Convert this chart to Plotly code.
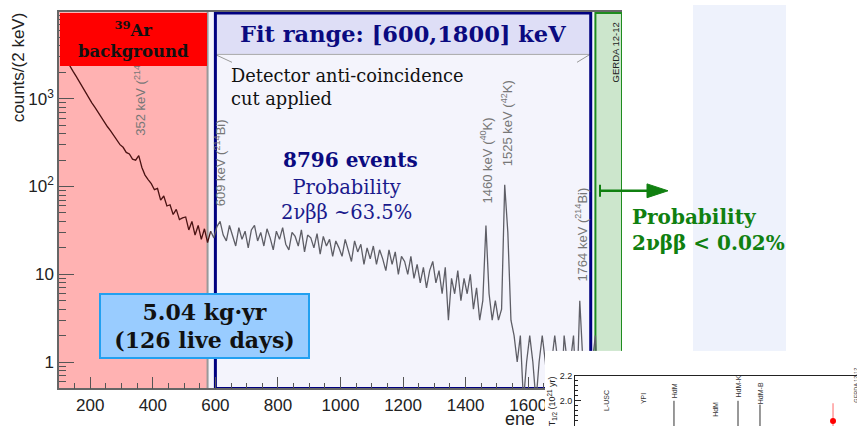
import numpy as np
import plotly.graph_objects as go

W, H = 857, 426


def px(x):
    return x / W


def py(y):
    return 1 - y / H


# ---------------- data ----------------
energy_start = 100      # keV, left edge of first bin
bin_width = 10          # keV
counts = [
    3600, 3100, 2700, 2350, 2050, 1800, 1560, 1380, 1200, 1020,   # 100-190
    900, 800, 700, 620, 540, 480, 430, 380, 340, 300,             # 200-290
    280, 245, 235, 205, 200, 225, 165, 135, 120, 108,             # 300-390
    92, 95, 70, 78, 60, 62, 48, 55, 42, 44,                       # 400-490
    45, 32, 40, 28, 36, 25, 33, 23, 31, 26,                       # 500-590
    35, 40, 28, 24, 36, 27, 21, 34, 25, 31,                       # 600-690
    20, 32, 36, 24, 30, 21, 33, 26, 19, 31,                       # 700-790
    25, 34, 22, 19, 30, 27, 21, 32, 18, 28,                       # 800-890
    26, 20, 29, 17, 27, 21, 25, 16, 24, 20,                       # 900-990
    16, 25, 19, 14, 24, 18, 22, 13, 20, 15,                       # 1000-1090
    21, 13, 19, 15, 11, 19, 13, 18, 10, 16,                       # 1100-1190
    14, 10, 16, 9, 13, 8, 12, 7, 11, 14,                          # 1200-1290
    8, 11, 6, 12, 3, 9, 6, 11, 5, 9,                              # 1300-1390
    6, 10, 4, 7, 3, 5, 36, 6, 3, 5,                               # 1400-1490
    3, 4, 105, 30, 3, 2, 1, 2, 0, 1,                              # 1500-1590
    2, 1, 0, 1, 2, 1, 0, 1, 2, 1,                                 # 1600-1690
    0, 2, 1, 1, 2, 0, 5, 1, 1, 0,                                 # 1700-1790
    1, 2, 0, 1, 0, 1, 1, 0, 1, 0,                                 # 1800-1890
]
x_range = [100, 1900]
fit_range = [600, 1800]
ar39_end = 575
gerda_band = [1815, 1900]

peak_energies = [352, 609, 1460, 1525, 1764]
peak_labels = ["352 keV (<sup>214</sup>Pb)", "609 keV (<sup>214</sup>Bi)",
               "1460 keV (<sup>40</sup>K)", "1525 keV (<sup>42</sup>K)",
               "1764 keV (<sup>214</sup>Bi)"]
peak_label_ypx = [86, 160, 157, 120, 232]

y_tickvals = [1, 10, 100, 1000]
y_ticktext = ["1", "10", "10<sup>2</sup>", "10<sup>3</sup>"]

# inset (half-life comparison)
inset_labels = ["L-USC", "YPI", "HdM", "HdM", "HdM-K", "HdM-B"]
inset_pos = [1.1, 2.41, 3.51, 5.0, 5.78, 6.56]
inset_label_y = [1.998, 2.021, 2.083, 1.928, 2.114, 2.06]
inset_upper = [None, None, 2.0, None, 2.0, 1.97]
gerda_pos = 9.15
gerda_t12 = 1.84
gerda_err_plus = 0.14
gerda_err_minus = 0.10

# ---------------- figure ----------------
counts = np.array(counts, dtype=float)
centers = energy_start + bin_width * (np.arange(len(counts)) + 0.5)
yfloor = 10 ** -0.45
yplot = np.where(counts > 0, counts, yfloor)

in_ar = centers <= ar39_end + 10
n_ar = int(in_ar.sum())
fig = go.Figure()
fig.add_trace(go.Scatter(
    x=centers[:n_ar], y=yplot[:n_ar],
    mode="lines", line=dict(color="#4a1212", width=1.3),
    hoverinfo="skip"))
fig.add_trace(go.Scatter(
    x=centers[n_ar - 1:], y=yplot[n_ar - 1:],
    mode="lines", line=dict(color="#5e5e66", width=1.3),
    hoverinfo="skip"))

# covering white inset subplot
fig.add_trace(go.Scatter(x=[0], y=[0], xaxis="x2", yaxis="y2", mode="markers",
                         marker=dict(opacity=0), hoverinfo="skip"))

# inset: upper error bars of earlier measurements
seg_x, seg_y = [], []
for p, u in zip(inset_pos, inset_upper):
    if u is not None:
        seg_x += [p, p, None]
        seg_y += [u, 1.7, None]
fig.add_trace(go.Scatter(x=seg_x, y=seg_y, xaxis="x3", yaxis="y3", mode="lines",
                         line=dict(color="#333", width=1), hoverinfo="skip"))
fig.add_trace(go.Scatter(
    x=[gerda_pos], y=[gerda_t12], xaxis="x3", yaxis="y3", mode="markers",
    marker=dict(color="#ff0000", size=6),
    error_y=dict(type="data", symmetric=False, array=[gerda_err_plus],
                 arrayminus=[gerda_err_minus], color="#ff9a9a", thickness=1.5, width=0),
    hoverinfo="skip"))

minor_y = [k * 10 ** d for d in range(-1, 4) for k in range(2, 10)]
minor_y = [v for v in minor_y if 0.5 <= v <= 9800]

tickfont = dict(family="Liberation Sans, Arial", size=17, color="#222")
fig.update_layout(
    width=W, height=H, autosize=False, margin=dict(l=0, r=0, t=0, b=0),
    paper_bgcolor="white", plot_bgcolor="white", showlegend=False,
    xaxis=dict(domain=[px(59), px(622)], range=x_range, anchor="y",
               showline=True, linecolor="#666", linewidth=1.5, mirror=True,
               ticks="inside", ticklen=12, tickcolor="#555", tick0=0, dtick=200,
               showgrid=False, zeroline=False, tickfont=tickfont,
               minor=dict(dtick=50, tick0=0, ticks="inside", ticklen=6, tickcolor="#555")),
    yaxis=dict(domain=[py(388), py(7)], type="log", range=[np.log10(0.5), 3.99],
               anchor="x", showline=True, linecolor="#666", linewidth=1.5,
               ticks="inside", ticklen=15, tickcolor="#555",
               tickmode="array", tickvals=y_tickvals, ticktext=y_ticktext,
               showgrid=False, zeroline=False, tickfont=tickfont,
               minor=dict(tickmode="array", tickvals=minor_y, ticks="inside",
                          ticklen=7, tickcolor="#555")),
    xaxis2=dict(domain=[px(545), 1], range=[0, 1], anchor="y2", visible=False),
    yaxis2=dict(domain=[0, py(350)], range=[0, 1], anchor="x2", visible=False),
    xaxis3=dict(domain=[px(575), 1], range=[0, 10], anchor="y3", side="top",
                showline=True, linecolor="#222", linewidth=1, ticks="",
                showticklabels=False, showgrid=False, zeroline=False),
    yaxis3=dict(domain=[0, py(375)], range=[1.8, 2.2], anchor="x3",
                showline=True, linecolor="#222", linewidth=1,
                ticks="inside", ticklen=6, tickcolor="#222", tick0=0, dtick=0.2,
                tickformat=".1f", showgrid=False, zeroline=False,
                tickfont=dict(family="Liberation Sans, Arial", size=9, color="#222"),
                minor=dict(dtick=0.04, tick0=0, ticks="inside", ticklen=3, tickcolor="#222")),
)

shapes = []
plot_y0, plot_y1 = py(388), py(7)
# plot area background
shapes.append(dict(type="rect", layer="below", xref="x", yref="paper",
                   x0=x_range[0], x1=x_range[1], y0=plot_y0, y1=plot_y1,
                   fillcolor="#F4F4FC", line=dict(width=0)))
# 39Ar region
shapes.append(dict(type="rect", layer="below", xref="x", yref="paper",
                   x0=x_range[0], x1=ar39_end, y0=plot_y0, y1=plot_y1,
                   fillcolor="#FFB2B2", line=dict(width=0)))
shapes.append(dict(type="line", layer="below", xref="x", yref="paper",
                   x0=ar39_end, x1=ar39_end, y0=plot_y0, y1=plot_y1,
                   line=dict(color="#999", width=2)))
# GERDA band
shapes.append(dict(type="rect", layer="below", xref="x", yref="paper",
                   x0=gerda_band[0], x1=gerda_band[1], y0=plot_y0, y1=py(8),
                   fillcolor="#CCE6CC", line=dict(color="#1E8C1E", width=2)))
# fit range header band
shapes.append(dict(type="rect", layer="below", xref="x", yref="paper",
                   x0=fit_range[0], x1=fit_range[1], y0=py(50), y1=py(8),
                   fillcolor="#DEDEF6", line=dict(width=0)))
shapes.append(dict(type="line", layer="below", xref="x", yref="paper",
                   x0=fit_range[0], x1=fit_range[1], y0=py(50), y1=py(50),
                   line=dict(color="#aaa", width=1)))
shapes.append(dict(type="line", layer="below", xref="paper", yref="paper",
                   x0=px(215), x1=px(232), y0=py(50), y1=py(58),
                   line=dict(color="#999", width=1)))
shapes.append(dict(type="line", layer="below", xref="paper", yref="paper",
                   x0=px(590), x1=px(577), y0=py(50), y1=py(58),
                   line=dict(color="#999", width=1)))
# fit range border
shapes.append(dict(type="rect", layer="below", xref="x", yref="paper",
                   x0=fit_range[0], x1=fit_range[1], y0=plot_y0, y1=py(8),
                   line=dict(color="#00007F", width=3)))
# pale blue column at right
shapes.append(dict(type="rect", layer="below", xref="paper", yref="paper",
                   x0=px(693), x1=px(786), y0=py(350), y1=1,
                   fillcolor="#EEF2FC", line=dict(width=0)))
# green arrow
green = "#108010"
shapes.append(dict(type="line", layer="above", xref="paper", yref="paper",
                   x0=px(600), x1=px(652), y0=py(188), y1=py(188),
                   line=dict(color=green, width=2.5)))
shapes.append(dict(type="line", layer="above", xref="paper", yref="paper",
                   x0=px(600), x1=px(600), y0=py(182), y1=py(194),
                   line=dict(color=green, width=2)))
shapes.append(dict(type="path", layer="above", xref="paper", yref="paper",
                   path=f"M {px(647)},{py(181)} L {px(668)},{py(188)} L {px(647)},{py(195)} Z",
                   fillcolor=green, line=dict(color=green, width=1)))
fig.update_layout(shapes=shapes)

serif = "DejaVu Serif"
sans = "Liberation Sans, Arial"
navy = "#0A0A80"
C = dict(xanchor="center", yanchor="middle", showarrow=False)
ann = []
ann.append(dict(text="counts/(2 keV)", x=px(18), y=py(63), xref="paper", yref="paper",
                textangle=-90, font=dict(family=sans, size=17, color="#222"), **C))
# energy axis title, clipped by the inset as in the slide
ann.append(dict(text="energy (keV)", x=px(503), y=py(419), xref="paper", yref="paper",
                xanchor="left", yanchor="middle", align="left", width=29, showarrow=False,
                font=dict(family=sans, size=18, color="#222")))
for e, lab, ly in zip(peak_energies, peak_labels, peak_label_ypx):
    ann.append(dict(text=lab, x=e + 6, y=py(ly), xref="x", yref="paper",
                    textangle=-90, font=dict(family=sans, size=13, color="#777"), **C))
ann.append(dict(text="<b><sup>39</sup>Ar<br>background</b>", x=px(133.5), y=py(34.5),
                xref="paper", yref="paper", width=147, height=53,
                bgcolor="#FF0000", borderpad=0, borderwidth=0,
                font=dict(family=serif, size=16.5, color="#111"), **C))
ann.append(dict(text="<b>Fit range: [600,1800] keV</b>", x=sum(fit_range) / 2, y=py(29),
                xref="x", yref="paper",
                font=dict(family=serif, size=22.5, color=navy), **C))
ann.append(dict(text="Detector anti-coincidence<br>cut applied", x=px(229), y=py(83),
                xref="paper", yref="paper", xanchor="left", yanchor="middle",
                align="left", showarrow=False,
                font=dict(family=serif, size=17.8, color="#111")))
ann.append(dict(text="<b>8796 events</b>", x=px(350), y=py(157), xref="paper", yref="paper",
                font=dict(family=serif, size=20, color=navy), **C))
ann.append(dict(text="Probability<br>2νββ ~63.5%", x=px(346), y=py(197.5),
                xref="paper", yref="paper",
                font=dict(family=serif, size=19.5, color="#1A1A8C"), **C))
ann.append(dict(text="<b>5.04 kg·yr<br>(126 live days)</b>", x=px(204.5), y=py(325),
                xref="paper", yref="paper", width=207, height=62,
                bgcolor="#99CCFF", bordercolor="#22A0F0", borderwidth=2, borderpad=0,
                font=dict(family=serif, size=22, color="#111"), **C))
ann.append(dict(text="GERDA 12-12", x=px(615), y=py(48), xref="paper", yref="paper",
                textangle=-90, font=dict(family=sans, size=9.5, color="#222"), **C))
ann.append(dict(text="<b>Probability<br>2νββ &lt; 0.02%</b>", x=px(630), y=py(228),
                xref="paper", yref="paper", xanchor="left", yanchor="middle",
                align="left", showarrow=False,
                font=dict(family=serif, size=20, color=green)))
# inset annotations
ann.append(dict(text="T<sub>1/2</sub> (10<sup>21</sup> yr)", x=px(552), y=py(401),
                xref="paper", yref="paper", textangle=-90,
                font=dict(family=sans, size=9, color="#222"), **C))
for lab, p, ly in zip(inset_labels, inset_pos, inset_label_y):
    ann.append(dict(text=lab, x=p, y=ly, xref="x3", yref="y3", textangle=-90,
                    font=dict(family=sans, size=7, color="#333"), **C))
ann.append(dict(text="GERDA 12-12", x=9.95, y=2.125, xref="x3", yref="y3", textangle=-90,
                font=dict(family=sans, size=5.5, color="#333"), **C))
fig.update_layout(annotations=ann)

fig.write_html("out.html")
